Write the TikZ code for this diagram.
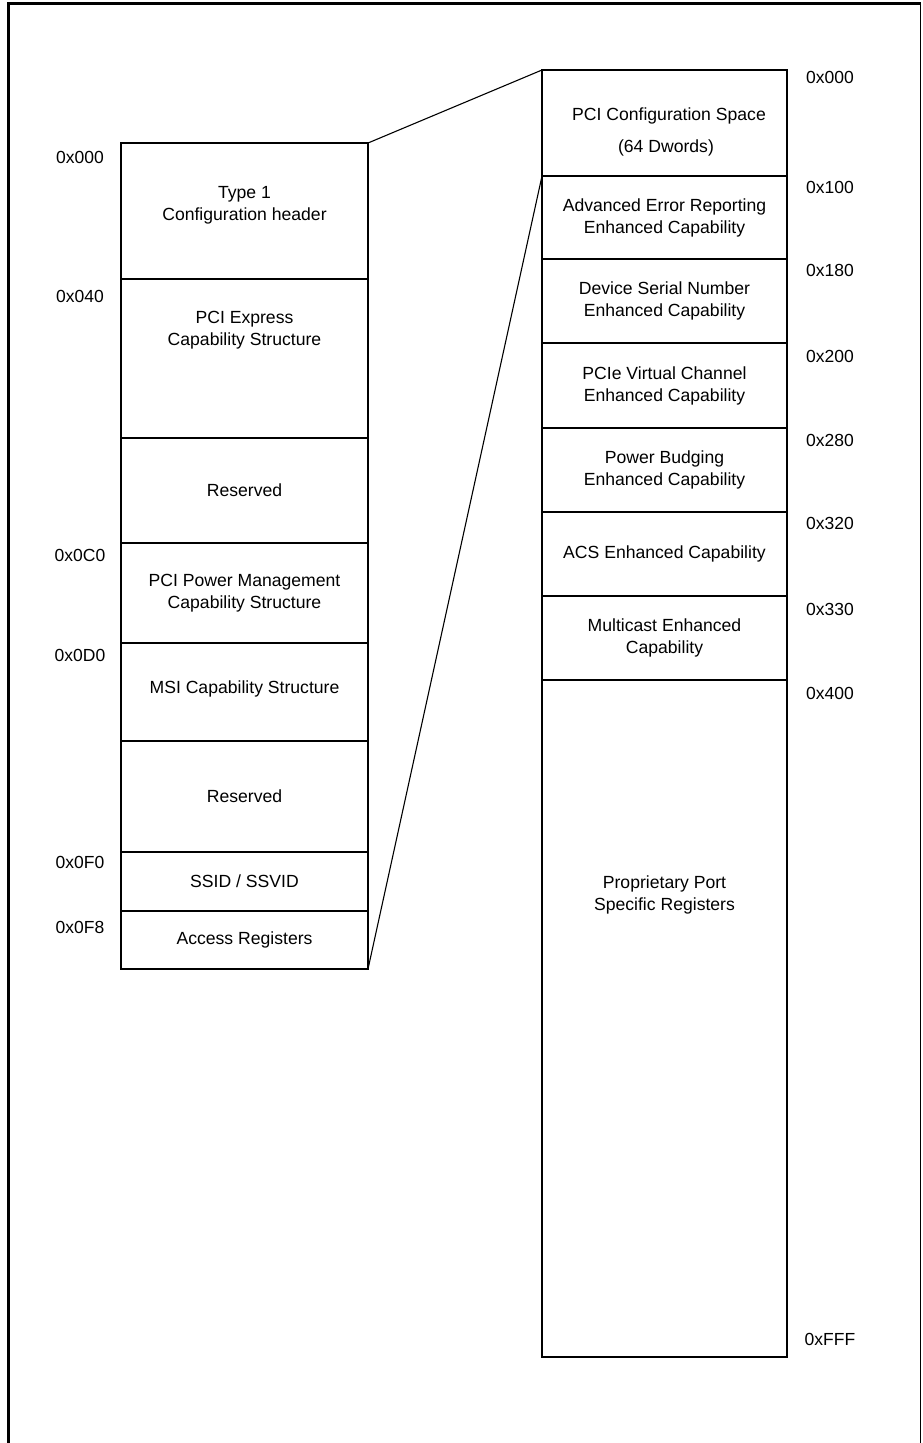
\documentclass[tikz,border=0pt]{standalone}
\usepackage{fontspec}
\setmainfont{Liberation Sans}
\begin{document}
\begin{tikzpicture}[x=1pt,y=-1pt,
  lcell/.style={draw,line width=2pt,anchor=north west,minimum width=247pt,inner sep=0pt,outer sep=0pt},
  rcell/.style={draw,line width=2pt,anchor=north west,minimum width=245pt,inner sep=0pt,outer sep=0pt},
  txt/.style={align=center,font=\fontsize{17.6}{22}\selectfont,inner sep=0pt},
  hex/.style={font=\fontsize{17.5}{20}\selectfont,inner sep=0pt},
  conn/.style={line width=1.1pt}]
\useasboundingbox (0,0) rectangle (922,1443);
% frame
\draw[line width=2.5pt] (8.5,1445) -- (8.5,3.5) -- (920.5,3.5);
\draw[line width=1pt] (920.5,3.5) -- (920.5,1445);
% left column
\node[lcell,minimum height=136pt] (lt) at (121,143) {};
\node[lcell,minimum height=159pt] (lpe) at (121,279) {};
\node[lcell,minimum height=105pt] (lr1) at (121,438) {};
\node[lcell,minimum height=100pt] (lpm) at (121,543) {};
\node[lcell,minimum height=98pt] (lmsi) at (121,643) {};
\node[lcell,minimum height=111pt] (lr2) at (121,741) {};
\node[lcell,minimum height=59pt] (lss) at (121,852) {};
\node[lcell,minimum height=58pt] (lacc) at (121,911) {};
\node[txt] (tlt) at (244.5,205) {Type 1\\Configuration header};
\node[txt] (tlpe) at (244.5,330) {PCI Express\\Capability Structure};
\node[txt] (tlr1) at (lr1.center) {Reserved};
\node[txt] (tlpm) at (lpm.center) {PCI Power Management\\Capability Structure};
\node[txt] (tlmsi) at (244.5,689) {MSI Capability Structure};
\node[txt] (tlr2) at (lr2.center) {Reserved};
\node[txt] (tlss) at (lss.center) {SSID / SSVID};
\node[txt] (tlacc) at (lacc.center) {Access Registers};
% left labels
\node[hex] (h1) at (80,157) {0x000};
\node[hex] (h2) at (80,296) {0x040};
\node[hex] (h3) at (80,555) {0x0C0};
\node[hex] (h4) at (80,655) {0x0D0};
\node[hex] (h5) at (80,862) {0x0F0};
\node[hex] (h6) at (80,927) {0x0F8};
% right column
\node[rcell,minimum height=106pt] (rpci) at (542,70) {};
\node[rcell,minimum height=83pt] (raer) at (542,176) {};
\node[rcell,minimum height=84pt] (rdsn) at (542,259) {};
\node[rcell,minimum height=85pt] (rvc) at (542,343) {};
\node[rcell,minimum height=84pt] (rpb) at (542,428) {};
\node[rcell,minimum height=84pt] (racs) at (542,512) {};
\node[rcell,minimum height=84pt] (rmc) at (542,596) {};
\node[rcell,minimum height=677pt] (rprop) at (542,680) {};
\node[txt] (trpci1) at (669,116) {PCI Configuration Space};
\node[txt] (trpci2) at (666,148) {(64 Dwords)};
\node[txt] (traer) at (raer.center) {Advanced Error Reporting\\Enhanced Capability};
\node[txt] (trdsn) at (rdsn.center) {Device Serial Number\\Enhanced Capability};
\node[txt] (trvc) at (rvc.center) {PCIe Virtual Channel\\Enhanced Capability};
\node[txt] (trpb) at (rpb.center) {Power Budging\\Enhanced Capability};
\node[txt] (tracs) at (racs.center) {ACS Enhanced Capability};
\node[txt] (trmc) at (rmc.center) {Multicast Enhanced\\Capability};
\node[txt] (trprop) at (664.5,895) {Proprietary Port\\Specific Registers};
% right labels
\node[hex] (k1) at (830,77) {0x000};
\node[hex] (k2) at (830,187) {0x100};
\node[hex] (k3) at (830,270) {0x180};
\node[hex] (k4) at (830,356) {0x200};
\node[hex] (k5) at (830,440) {0x280};
\node[hex] (k6) at (830,523) {0x320};
\node[hex] (k7) at (830,609) {0x330};
\node[hex] (k8) at (830,693) {0x400};
\node[hex] (k9) at (830,1339) {0xFFF};
% connectors
\draw[conn] (lt.north east) -- (rpci.north west);
\draw[conn] (lacc.south east) -- (raer.north west);
\end{tikzpicture}
\end{document}
